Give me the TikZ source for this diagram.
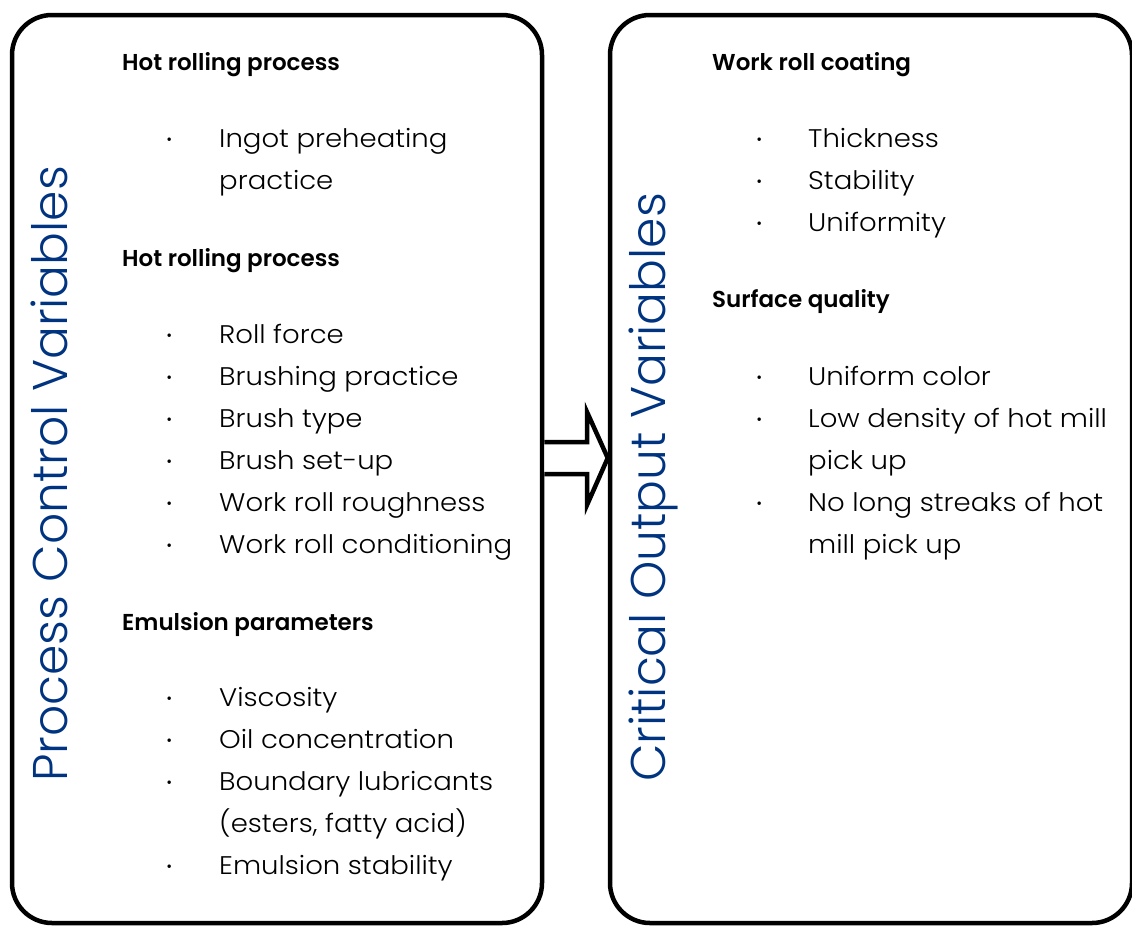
\documentclass[tikz,border=0pt]{standalone}
\usepackage{fontspec}
\setmainfont{Poppins}[UprightFont={* Light},BoldFont={* SemiBold}]
\newfontfamily\itemfont{Poppins Light}[FakeStretch=1.08]
\definecolor{titleblue}{RGB}{0,51,128}
\begin{document}
\begin{tikzpicture}[x=1pt,y=-1pt,
  panel/.style={draw=black,line width=4.5pt,rounded corners=40pt,fill=none,inner sep=0pt},
  head/.style={anchor=base west,inner sep=0pt,font=\fontsize{23}{28}\selectfont\bfseries},
  item/.style={anchor=base west,inner sep=0pt,font=\itemfont\fontsize{25.5}{30}\selectfont},
  dot/.style={anchor=base,inner sep=0pt,yshift=-4.5pt,font=\fontsize{34}{34}\selectfont},
  vtitle/.style={anchor=base west,inner sep=0pt,rotate=90,text=titleblue,font=\fontsize{48.7}{58}\selectfont},
  blockarrow/.style={draw=black,line width=4.5pt,fill=white,line join=miter}]
\useasboundingbox (0,0) rectangle (1132,926);

% the two panels
\node[panel,minimum width=530pt,minimum height=908pt] (L) at (277,469) {};
\node[panel,minimum width=522pt,minimum height=908pt] (R) at (871,469) {};

% hollow block arrow from the left panel to the right one
\draw[blockarrow] (L.east |- 0,442) -- (587,442) -- (587,412) -- (R.west |- 0,458)
  -- (587,505) -- (587,474) -- (L.east |- 0,474);

% vertical titles
\node[vtitle] (lt) at (67,782) {Process Control Variables};
\node[vtitle] (rt) at (665,782) {Critical Output Variables};

% left panel contents
\node[head] (h1) at (122,70) {Hot rolling process};
\node[dot] (b1) at (170,147) {·};
\node[item] (i1) at (219,147) {Ingot preheating};
\node[item] (i1b) at (219,189) {practice};

\node[head] (h2) at (122,266) {Hot rolling process};
\foreach \y/\t [count=\k] in {343/Roll force,385/Brushing practice,427/Brush type,
    469/Brush set-up,511/Work roll roughness,553/Work roll conditioning}{
  \node[dot] (b2\k) at (170,\y) {·};
  \node[item] (i2\k) at (219,\y) {\t};
}

\node[head] (h3) at (122,630) {Emulsion parameters};
\node[dot] (b31) at (170,706) {·};
\node[item] (i31) at (219,706) {Viscosity};
\node[dot] (b32) at (170,748) {·};
\node[item] (i32) at (219,748) {Oil concentration};
\node[dot] (b33) at (170,790) {·};
\node[item] (i33) at (219,790) {Boundary lubricants};
\node[item] (i33b) at (219,832) {(esters, fatty acid)};
\node[dot] (b34) at (170,874) {·};
\node[item] (i34) at (219,874) {Emulsion stability};

% right panel contents
\node[head] (h4) at (712,70) {Work roll coating};
\foreach \y/\t [count=\k] in {147/Thickness,189/Stability,231/Uniformity}{
  \node[dot] (b4\k) at (760,\y) {·};
  \node[item] (i4\k) at (808,\y) {\t};
}

\node[head] (h5) at (712,307) {Surface quality};
\node[dot] (b51) at (760,385) {·};
\node[item] (i51) at (808,385) {Uniform color};
\node[dot] (b52) at (760,427) {·};
\node[item] (i52) at (808,427) {Low density of hot mill};
\node[item] (i52b) at (808,469) {pick up};
\node[dot] (b53) at (760,511) {·};
\node[item] (i53) at (808,511) {No long streaks of hot};
\node[item] (i53b) at (808,553) {mill pick up};
\end{tikzpicture}
\end{document}
